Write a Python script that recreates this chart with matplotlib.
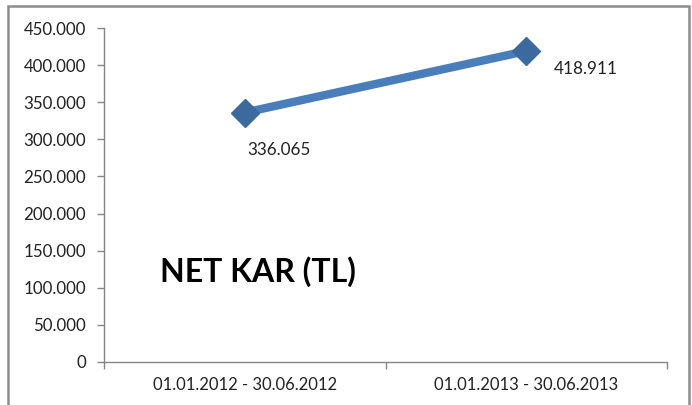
import matplotlib
matplotlib.use("Agg")
import matplotlib.pyplot as plt
from matplotlib.ticker import FuncFormatter, FixedLocator
from matplotlib.patches import Rectangle

categories = ["01.01.2012 - 30.06.2012", "01.01.2013 - 30.06.2013"]
values = [336065, 418911]
value_labels = ["336.065", "418.911"]
title_text = "NET KAR (TL)"

plt.rcParams['font.family'] = ['Lato', 'DejaVu Sans']

fig = plt.figure(figsize=(6.92, 4.05), dpi=100)
ax = fig.add_axes([104/692, 1-362/405, (667-104)/692, (362-28)/405])

xs = list(range(len(categories)))
ax.plot(xs, values, color="#4A7EBB", lw=6, solid_capstyle="butt", zorder=2)
ax.plot(xs, values, ls="none", marker="D", ms=14.5, mfc="#3C6A9E", mec="#3C6A9E", zorder=3)

offsets = [(2, -27), (20, -13)]
for x, v, lab, off in zip(xs, values, value_labels, offsets):
    ax.annotate(lab, (x, v), xytext=off, textcoords="offset points",
                ha="left", va="center", fontsize=12.3, color="#222222")

ax.set_xlim(-0.5, len(categories) - 0.5)
ax.set_ylim(0, 450000)
ax.yaxis.set_major_locator(FixedLocator(range(0, 450001, 50000)))
ax.yaxis.set_major_formatter(FuncFormatter(lambda v, p: f"{int(v):,}".replace(",", ".")))

ax.xaxis.set_major_locator(FixedLocator([-0.5, 0.5, 1.5]))
ax.xaxis.set_major_formatter(FuncFormatter(lambda v, p: ""))
ax.xaxis.set_minor_locator(FixedLocator(xs))
ax.set_xticklabels(categories, minor=True)
ax.tick_params(axis="x", which="minor", length=0, pad=11, labelsize=12, labelcolor="#222222")
ax.tick_params(axis="x", which="major", length=5, color="#868686", width=1)
ax.tick_params(axis="y", length=5, color="#868686", width=1, pad=8, labelsize=12.2, labelcolor="#222222")

for s in ["top", "right"]:
    ax.spines[s].set_visible(False)
for s in ["left", "bottom"]:
    ax.spines[s].set_color("#868686")
    ax.spines[s].set_linewidth(1)

ax.text(0.1, 0.27, title_text, transform=ax.transAxes, fontsize=23, fontweight="bold",
        ha="left", va="center", color="black")

fig.patches.append(Rectangle((8/692, -0.05), (689-8)/692, 1.05 - 6/405, transform=fig.transFigure,
                             fill=False, edgecolor="#8C8C8C", lw=1.8))

fig.savefig("out.png", dpi=100)
